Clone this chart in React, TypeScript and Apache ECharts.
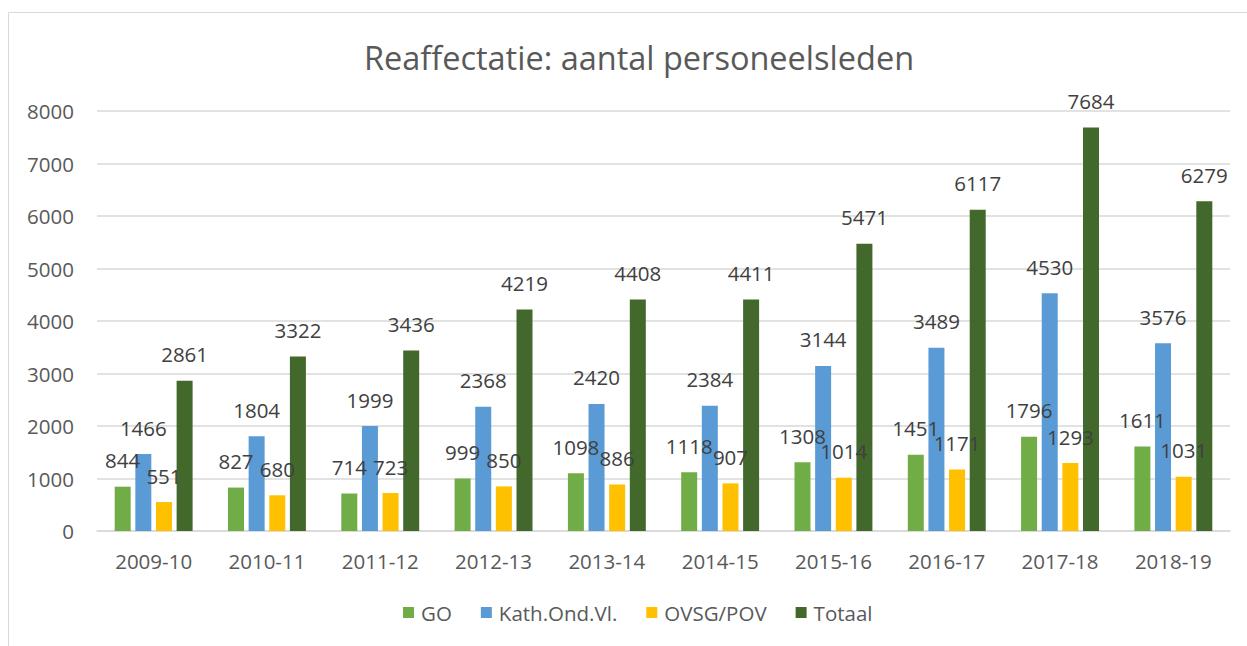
import React, { useEffect, useRef } from "react";
import * as echarts from "echarts";

const categories = ["2009-10", "2010-11", "2011-12", "2012-13", "2013-14", "2014-15", "2015-16", "2016-17", "2017-18", "2018-19"];
const goValues = [844, 827, 714, 999, 1098, 1118, 1308, 1451, 1796, 1611];
const kathValues = [1466, 1804, 1999, 2368, 2420, 2384, 3144, 3489, 4530, 3576];
const ovsgValues = [551, 680, 723, 850, 886, 907, 1014, 1171, 1293, 1031];
const totaalValues = [2861, 3322, 3436, 4219, 4408, 4411, 5471, 6117, 7684, 6279];
const seriesNames = ["GO", "Kath.Ond.Vl.", "OVSG/POV", "Totaal"];
const seriesColors = ["#70AD47", "#5B9BD5", "#FFC000", "#43682B"];

const FONT = "'Open Sans', 'Noto Sans', sans-serif";
const TEXT = "#595959";
const LABEL_TEXT = "#404040";
const FS = 20.5;

export default function App() {
  const ref = useRef<HTMLDivElement>(null);
  useEffect(() => {
    if (!ref.current) return;
    const chart = echarts.init(ref.current, undefined, { renderer: "svg" });
    const all = [goValues, kathValues, ovsgValues, totaalValues];
    const barSeries = all.map((vals, i) => ({
      name: seriesNames[i],
      type: "bar",
      xAxisIndex: 0,
      data: vals,
      barWidth: 16,
      barGap: "29%",
      z: 2,
      itemStyle: { color: seriesColors[i] },
    }));
    const labelSeries = all.map((vals, i) => ({
      name: seriesNames[i] + " label",
      type: "bar",
      xAxisIndex: 1,
      data: vals,
      barWidth: 16,
      barGap: "29%",
      z: 10,
      silent: true,
      itemStyle: { color: "rgba(0,0,0,0)" },
      label: {
        show: true,
        position: "top",
        distance: 16,
        color: LABEL_TEXT,
        fontFamily: FONT,
        fontSize: FS,
      },
    }));
    chart.setOption({
      animation: false,
      backgroundColor: "#ffffff",
      textStyle: { fontFamily: FONT },
      title: {
        text: "Reaffectatie: aantal personeelsleden",
        left: 634,
        textAlign: "center",
        top: 36,
        textStyle: { fontFamily: FONT, fontSize: 32.5, fontWeight: "normal", color: TEXT },
      },
      graphic: [
        { type: "line", shape: { x1: 8.5, y1: 12.5, x2: 1247, y2: 12.5 }, style: { stroke: "#d9d9d9", lineWidth: 1 } },
        { type: "line", shape: { x1: 8.5, y1: 12.5, x2: 8.5, y2: 646 }, style: { stroke: "#d9d9d9", lineWidth: 1 } },
      ],
      legend: {
        data: seriesNames,
        bottom: 18,
        left: 398,
        itemWidth: 11,
        itemHeight: 11,
        itemGap: 29,
        icon: "rect",
        textStyle: { fontFamily: FONT, fontSize: FS, color: TEXT, padding: [0, 0, 0, 2] },
      },
      grid: { left: 97, right: 17, top: 111, bottom: 115, containLabel: false },
      xAxis: [
        {
          type: "category",
          data: categories,
          axisLine: { show: true, lineStyle: { color: "#d9d9d9", width: 1.5 } },
          axisTick: { show: false },
          axisLabel: { color: TEXT, fontFamily: FONT, fontSize: FS, margin: 19 },
        },
        {
          type: "category",
          data: categories,
          show: false,
        },
      ],
      yAxis: {
        type: "value",
        min: 0,
        max: 8000,
        interval: 1000,
        axisLine: { show: false },
        axisTick: { show: false },
        splitLine: { lineStyle: { color: "#d9d9d9", width: 1.5 } },
        axisLabel: {
          color: TEXT,
          fontFamily: FONT,
          fontSize: FS,
          margin: 23,
          formatter: (v: number) => String(v),
        },
      },
      series: [...barSeries, ...labelSeries],
    });
    return () => chart.dispose();
  }, []);
  return (
    <div
      ref={ref}
      style={{ position: "fixed", left: 0, top: 0, width: 1247, height: 646 }}
    />
  );
}
